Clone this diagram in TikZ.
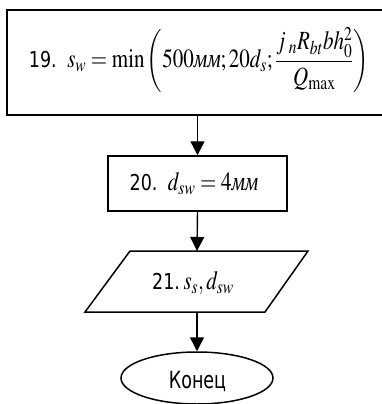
\documentclass[tikz,border=0pt]{standalone}
\usepackage{mathptmx}
\usepackage{amsmath}
\usepackage{graphicx}
\usepackage[no-math]{fontspec}
\setmainfont{Liberation Serif}
\setsansfont{DejaVu Sans}
\usetikzlibrary{shapes.geometric,arrows.meta}
\newcommand{\mmunit}{\text{\itshape мм}}
\newcommand{\numlbl}[1]{{\sffamily\fontsize{17.5}{20}\selectfont #1}}
\newcommand{\tallbox}[1]{\scalebox{1}[1.25]{#1}}
\tikzset{
  blockbox/.style={draw, line width=1.5pt, rectangle, inner sep=0pt},
  txt/.style={inner sep=0pt, font=\fontsize{21}{24}\selectfont},
  flow/.style={line width=1.4pt, -{Triangle[width=14pt,length=14pt]}},
  endbox/.style={draw, line width=1.5pt, ellipse, inner sep=0pt, minimum width=152pt, minimum height=52pt}
}
\begin{document}
\begin{tikzpicture}[x=1pt,y=-1pt]
\useasboundingbox (0,0) rectangle (382,404);
\node[blockbox, minimum width=380pt, minimum height=105pt] (b19) at (197,62.5) {};
\node[txt] (t19) at (199,60) {\tallbox{\numlbl{19.}\ \ $s_w=\min\left(500\mmunit;20d_s;\dfrac{j_{\;n}R_{bt}bh_0^2}{Q_{\max}}\right)$}};
\node[blockbox, minimum width=179pt, minimum height=55pt] (b20) at (197.5,183.5) {};
\node[txt] (t20) at (194,184) {\tallbox{\numlbl{20.}\ \ $d_{sw}=4\mmunit$}};
\coordinate (p21t) at (197,251);
\coordinate (p21b) at (197,312);
\draw[line width=1.5pt, line join=miter] (130,251) -- (308,251) -- (265,312) -- (85,312) -- cycle;
\node[txt] (t21) at (193,283) {\tallbox{\numlbl{21.}\,$s_s,d_{sw}$}};
\node[endbox] (e) at (197,378) {};
\node[inner sep=0pt] (te) at (197.5,382) {\scalebox{1}[1.35]{\sffamily\fontsize{17.5}{20}\selectfont Конец}};
\draw[flow] (b19.south -| b20.north) -- (b20.north);
\draw[flow] (b20.south) -- (p21t);
\draw[flow] (p21b) -- (e.north);
\end{tikzpicture}
\end{document}
